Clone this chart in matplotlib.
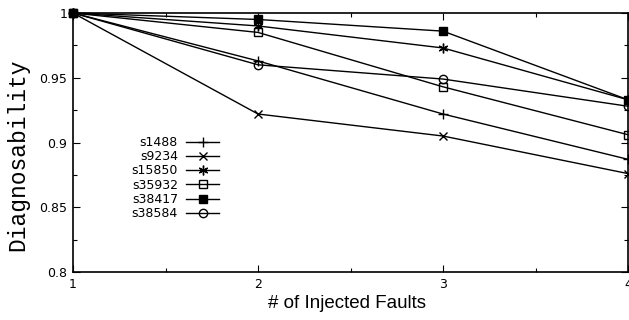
import matplotlib
matplotlib.use('Agg')
import matplotlib.pyplot as plt
from matplotlib.ticker import MultipleLocator

# data
faults = [1, 2, 3, 4]
circuits = ['s1488', 's9234', 's15850', 's35932', 's38417', 's38584']
s1488 = [1.0, 0.963, 0.922, 0.887]
s9234 = [1.0, 0.922, 0.905, 0.876]
s15850 = [1.0, 0.990, 0.973, 0.933]
s35932 = [1.0, 0.985, 0.943, 0.906]
s38417 = [1.0, 0.995, 0.986, 0.933]
s38584 = [1.0, 0.960, 0.949, 0.928]
series = [s1488, s9234, s15850, s35932, s38417, s38584]

styles = [
    dict(marker='+', markersize=7, mfc='black'),
    dict(marker='x', markersize=6, mfc='black'),
    dict(marker=(6, 2, 0), markersize=7, mfc='black'),
    dict(marker='s', markersize=6, mfc='none'),
    dict(marker='s', markersize=6, mfc='black'),
    dict(marker='o', markersize=6, mfc='none'),
]

fig = plt.figure(figsize=(6.29, 3.2), dpi=100)
ax = fig.add_axes([73 / 629, 48 / 320, 555 / 629, 259 / 320])

for vals, name, st in zip(series, circuits, styles):
    ax.plot(faults, vals, color='black', lw=1.0, mec='black', mew=1.0,
            label=name, clip_on=False, **st)

ax.set_xlim(1, 4)
ax.set_ylim(0.8, 1.0)
ax.set_xticks(faults)
ax.xaxis.set_minor_locator(MultipleLocator(0.5))
ax.set_yticks([0.8, 0.85, 0.9, 0.95, 1.0])
ax.set_yticklabels(['0.8', '0.85', '0.9', '0.95', '1'])
ax.yaxis.set_minor_locator(MultipleLocator(0.025))
ax.tick_params(which='both', direction='in', top=True, right=True,
               labelsize=9, pad=4)
ax.tick_params(which='major', length=5, width=0.8)
ax.tick_params(which='minor', length=3, width=0.8)
for s in ax.spines.values():
    s.set_linewidth(1.2)

# axis titles placed as in the reference
fig.text(347 / 629, 1 - 303 / 320, '# of Injected Faults', fontsize=13.5,
         family='Liberation Sans', ha='center', va='center')
fig.text(18 / 629, 1 - 155 / 320, 'Diagnosability', fontsize=16.5,
         family='Liberation Mono', rotation=90, ha='center', va='center')

ax.legend(loc='upper right', bbox_to_anchor=(219 / 629, 1 - 136 / 320),
          bbox_transform=fig.transFigure, frameon=False, markerfirst=False,
          fontsize=9, handlelength=2.64, handletextpad=0.64, labelspacing=0.1,
          borderpad=0, borderaxespad=0)
for t in ax.get_legend().get_texts():
    t.set_ha('right')

fig.savefig('out.png', dpi=100)
